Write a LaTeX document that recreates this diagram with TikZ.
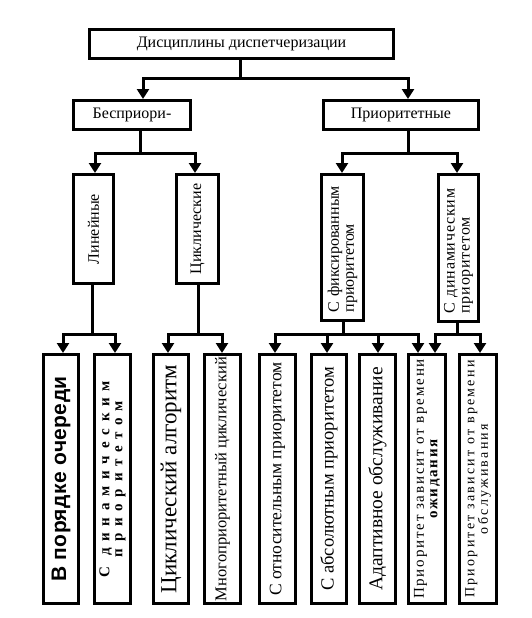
\documentclass[tikz,border=0pt]{standalone}
\usepackage{fontspec}
\setmainfont{Liberation Serif}
\newfontfamily\sansf[LetterSpace=2]{Liberation Sans}
\newfontfamily\widebf[LetterSpace=45]{Liberation Serif}
\newfontfamily\wideA[LetterSpace=12]{Liberation Serif}
\newfontfamily\wideB[LetterSpace=16]{Liberation Serif}
\newfontfamily\wideC[LetterSpace=5]{Liberation Serif}
\usetikzlibrary{arrows.meta}
\newcommand\fsz[2]{\fontsize{#1}{#2}\selectfont}
\tikzset{
  box/.style={draw, line width=3pt, inner sep=1pt, align=center},
  vbox/.style={box, rotate=90},
  low/.style={vbox, minimum width=249pt},
  conn/.style={line width=3pt},
  arr/.style={conn, -{Triangle[width=12pt,length=10pt]}},
}
\begin{document}
\begin{tikzpicture}[x=1pt,y=1pt]
\useasboundingbox (0,0) rectangle (531,-618);
% level 0
\node[box, minimum width=304pt, minimum height=29pt, font=\fsz{16}{18}] (top) at (241.5,-44) {Дисциплины диспетчеризации};
% level 1
\node[box, minimum width=117pt, minimum height=29pt, font=\fsz{16}{18}] (bes) at (132,-115) {Бесприори-};
\node[box, minimum width=155pt, minimum height=29pt, font=\fsz{16}{18}] (prio) at (401,-115) {Приоритетные};
% level 2
\node[vbox, minimum width=109pt, minimum height=40pt, font=\fsz{16}{18}] (lin) at (93.5,-229) {Линейные};
\node[vbox, minimum width=109pt, minimum height=42pt, font=\fsz{16}{18}] (cyc) at (197.5,-229) {Циклические};
\node[vbox, minimum width=146pt, minimum height=42pt, text width=130pt, align=left, font=\fsz{16}{15}] (fix) at (342.5,-247.5) {С фиксированным\\приоритетом};
\node[vbox, minimum width=147pt, minimum height=40pt, text width=131pt, align=left, font=\fsz{16}{15}\wideC] (dyn) at (458.5,-248) {С динамическим\\приоритетом};
% level 3
\node[low, minimum height=35pt, font=\fsz{21}{23}\sansf\bfseries] (b1) at (61,-479) {В порядке очереди};
\node[low, minimum height=36pt, font=\fsz{15}{13}\widebf\bfseries] (b2) at (112.5,-479) {С динамическим\\приоритетом};
\node[low, minimum height=35pt, font=\fsz{23}{25}] (b3) at (171,-479) {Циклический алгоритм};
\node[low, minimum height=36pt, font=\fsz{16.5}{18}] (b4) at (222.5,-479) {Многоприоритетный циклический};
\node[low, minimum height=36pt, font=\fsz{17.5}{19}] (b5) at (277.5,-479) {С относительным приоритетом};
\node[low, minimum height=35pt, font=\fsz{18.5}{20}] (b6) at (329,-479) {С абсолютным приоритетом};
\node[low, minimum height=36pt, font=\fsz{19.5}{21}] (b7) at (377.5,-479) {Адаптивное обслуживание};
\node[low, minimum height=37pt, font=\fsz{15}{13.5}\wideA] (b8) at (427,-479) {Приоритет зависит от времени\\\bfseries ожидания};
\node[low, minimum height=37pt, font=\fsz{14}{13.5}\wideB] (b9) at (478,-479) {Приоритет зависит от времени\\обслуживания};
% connectors level 0 -> 1
\draw[conn] ([xshift=-1.5pt]top.south) -- ++(0,-18) coordinate (j0);
\draw[arr] (j0) -| ([xshift=11pt]bes.north);
\draw[arr] (j0) -| ([xshift=7pt]prio.north);
% level 1 -> 2
\draw[conn] ([xshift=8pt]bes.south) -- ++(0,-22) coordinate (j1);
\draw[arr] (j1) -| ([xshift=1.5pt]lin.east);
\draw[arr] (j1) -| ([xshift=-2.5pt]cyc.east);
\draw[conn] ([xshift=7pt]prio.south) -- ++(0,-22) coordinate (j2);
\draw[arr] (j2) -| ([xshift=-0.5pt]fix.east);
\draw[arr] (j2) -| ([xshift=-1.5pt]dyn.east);
% level 2 -> 3
\draw[conn] ([xshift=-1.5pt]lin.west) -- ++(0,-49.5) coordinate (j3);
\draw[arr] (j3) -| ([xshift=2pt]b1.east);
\draw[arr] (j3) -| ([xshift=2.5pt]b2.east);
\draw[conn] ([xshift=0.5pt]cyc.west) -- ++(0,-49.5) coordinate (j4);
\draw[arr] (j4) -| ([xshift=-3pt]b3.east);
\draw[arr] (j4) -| ([xshift=-0.5pt]b4.east);
\draw[conn] ([xshift=0.5pt]fix.west) -- ++(0,-12.5) coordinate (j5);
\draw[arr] (j5) -| ([xshift=-2.5pt]b5.east);
\draw[arr] (j5) -| ([xshift=-2pt]b6.east);
\draw[arr] (j5) -| ([xshift=0.5pt]b7.east);
\draw[arr] (j5) -| ([xshift=-9pt]b8.east);
\draw[conn] ([xshift=-1.5pt]dyn.west) -- ++(0,-11.5) coordinate (j6);
\draw[arr] (j6) -| ([xshift=8pt]b8.east);
\draw[arr] (j6) -| ([xshift=2pt]b9.east);
\end{tikzpicture}
\end{document}
